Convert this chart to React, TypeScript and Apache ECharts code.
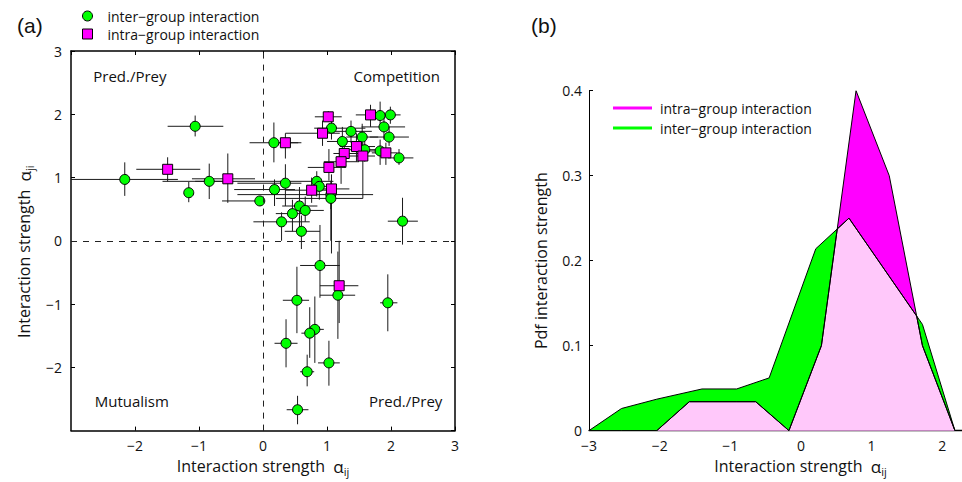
import React, { useEffect, useRef } from "react";
import * as echarts from "echarts";

// Panel (a): [x, y, xLow, xHigh, yLow, yHigh]
const interPoints: number[][] = [
  [-2.16, 0.97, -3.2, -1.33, 0.71, 1.24],
  [-1.06, 1.81, -1.49, -0.62, 1.65, 1.98],
  [-1.16, 0.76, -1.16, -1.16, 0.61, 0.93],
  [-0.84, 0.94, -1.06, -0.6, 0.66, 1.22],
  [-0.05, 0.63, -0.64, 0.02, 0.55, 0.7],
  [0.17, 1.55, -0.21, 0.55, 1.24, 1.87],
  [0.18, 0.81, -0.45, 0.5, 0.55, 0.97],
  [0.29, 0.3, -0.15, 0.73, 0.0, 0.45],
  [0.35, 0.91, -0.4, 0.6, 0.55, 1.21],
  [0.57, 0.55, 0.3, 0.85, 0.2, 0.85],
  [0.66, 0.48, 0.45, 0.95, 0.3, 0.7],
  [0.46, 0.43, 0.2, 0.7, 0.15, 0.65],
  [0.6, 0.15, 0.34, 0.89, -0.13, 0.4],
  [0.84, 0.94, -1.57, 1.1, 0.7, 1.1],
  [0.88, 0.86, 0.7, 1.1, 0.65, 1.0],
  [1.06, 0.73, -0.4, 1.72, 0.5, 0.95],
  [1.06, 0.67, 0.2, 1.56, 0.0, 0.85],
  [1.07, 1.78, 0.8, 1.6, 1.6, 1.95],
  [1.375, 1.73, 1.0, 1.7, 1.55, 1.9],
  [1.24, 1.57, 1.0, 1.5, 1.3, 1.8],
  [1.55, 1.64, 1.3, 1.8, 1.4, 1.85],
  [1.59, 1.44, 1.35, 1.85, 1.25, 1.62],
  [1.83, 1.98, 1.65, 2.0, 1.8, 2.2],
  [1.99, 1.99, 1.85, 2.15, 1.85, 2.12],
  [1.89, 1.8, 1.54, 2.22, 1.6, 2.0],
  [1.97, 1.64, 1.67, 2.28, 1.5, 1.8],
  [1.83, 1.42, 1.6, 1.95, 1.2, 1.6],
  [2.125, 1.31, 1.95, 2.35, 1.2, 1.45],
  [2.18, 0.31, 1.95, 2.42, -0.06, 0.68],
  [0.89, -0.39, 0.58, 1.2, -0.9, 0.25],
  [1.17, -0.86, 0.89, 1.44, -1.55, -0.17],
  [0.53, -0.94, 0.31, 0.72, -1.46, -0.41],
  [1.95, -0.98, 1.83, 2.1, -1.43, -0.53],
  [0.81, -1.4, 0.7, 0.95, -1.93, -0.88],
  [0.73, -1.46, 0.6, 0.85, -1.85, -1.05],
  [0.36, -1.62, 0.18, 0.54, -2.0, -1.24],
  [1.03, -1.93, 0.86, 1.2, -2.29, -1.58],
  [0.69, -2.07, 0.58, 0.8, -2.3, -1.8],
  [0.54, -2.67, 0.37, 0.71, -2.9, -2.45],
];

const intraPoints: number[][] = [
  [-1.49, 1.13, -1.98, -0.98, 0.94, 1.32],
  [-0.55, 0.98, -1.11, -0.125, 0.6, 1.38],
  [0.35, 1.55, 0.16, 0.6, 1.3, 1.7],
  [0.93, 1.7, 0.35, 1.2, 1.5, 1.9],
  [1.02, 1.96, 0.81, 1.23, 1.88, 2.05],
  [1.46, 1.49, 1.2, 1.75, 1.25, 1.7],
  [1.27, 1.38, 1.1, 1.5, 1.15, 1.6],
  [1.22, 1.25, 0.95, 1.5, 0.9, 1.45],
  [1.56, 1.34, 1.3, 1.75, 0.67, 1.55],
  [1.03, 1.16, 0.7, 1.3, 0.95, 1.45],
  [1.68, 1.99, 1.45, 1.85, 1.8, 2.15],
  [1.92, 1.39, 1.7, 2.1, 1.2, 1.55],
  [0.76, 0.8, 0.35, 1.0, 0.6, 1.0],
  [1.07, 0.82, 0.85, 1.35, -0.2, 1.05],
  [1.19, -0.71, 0.89, 1.49, -1.3, 0.0],
];

const quadrantNames = ["Pred./Prey", "Competition", "Mutualism", "Pred./Prey"];
const quadrantX = [-2.08, 2.09, -2.05, 2.23];
const quadrantY = [2.61, 2.61, -2.53, -2.53];

// Panel (b): pdf curves
const interPdfX = [-3, -2.54, -2.04, -1.4, -0.91, -0.45, 0.21, 0.68, 1.72, 2.18];
const interPdfY = [0, 0.026, 0.037, 0.049, 0.049, 0.062, 0.214, 0.25, 0.125, 0];
const intraPdfX = [-2.04, -1.58, -0.64, -0.17, 0.29, 0.78, 1.25, 1.72, 2.18];
const intraPdfY = [0, 0.034, 0.034, 0, 0.1, 0.4, 0.3, 0.1, 0];

const INTER = "inter−group interaction";
const INTRA = "intra−group interaction";
const FONT = "Open Sans";
const GREEN = "#00ff00";
const MAGENTA = "#ff00ff";
const PINK = "#ffc8fa";

function interp(xs: number[], ys: number[], x: number): number {
  if (x < xs[0] || x > xs[xs.length - 1]) return 0;
  for (let i = 0; i < xs.length - 1; i++) {
    if (x >= xs[i] && x <= xs[i + 1]) {
      const t = xs[i + 1] === xs[i] ? 0 : (x - xs[i]) / (xs[i + 1] - xs[i]);
      return ys[i] + t * (ys[i + 1] - ys[i]);
    }
  }
  return 0;
}

function overlap(): number[][] {
  const all = Array.from(new Set([...interPdfX, ...intraPdfX])).sort((a, b) => a - b);
  const out: number[][] = [];
  let prevX = 0;
  let prevD = 0;
  all.forEach((x, i) => {
    const f = interp(interPdfX, interPdfY, x);
    const g = interp(intraPdfX, intraPdfY, x);
    const d = f - g;
    if (i > 0 && ((prevD < 0 && d > 0) || (prevD > 0 && d < 0))) {
      const xc = prevX + ((x - prevX) * prevD) / (prevD - d);
      out.push([xc, interp(interPdfX, interPdfY, xc)]);
    }
    out.push([x, Math.min(f, g)]);
    prevX = x;
    prevD = d;
  });
  return out;
}

const minus = (v: number) => String(v).replace("-", "−");

const errorBarSeries = (pts: number[][], name: string) => ({
  type: "custom",
  name,
  xAxisIndex: 0,
  yAxisIndex: 0,
  clip: true,
  silent: true,
  z: 1,
  encode: { x: [0, 2, 3], y: [1, 4, 5] },
  data: pts,
  renderItem: (_params: any, api: any) => {
    const x = api.value(0);
    const y = api.value(1);
    const a = api.coord([api.value(2), y]);
    const b = api.coord([api.value(3), y]);
    const c = api.coord([x, api.value(4)]);
    const d = api.coord([x, api.value(5)]);
    const style = { stroke: "#1a1a1a", lineWidth: 1 };
    return {
      type: "group",
      children: [
        { type: "line", shape: { x1: a[0], y1: a[1], x2: b[0], y2: b[1] }, style },
        { type: "line", shape: { x1: c[0], y1: c[1], x2: d[0], y2: d[1] }, style },
      ],
    };
  },
});

const axisText = { fontFamily: FONT, fontSize: 14, color: "#111" };
const nameRich = {
  t: { fontFamily: FONT, fontSize: 16, color: "#111", lineHeight: 22 },
  a: { fontFamily: FONT, fontSize: 17, color: "#111", lineHeight: 22 },
  s: { fontFamily: FONT, fontSize: 11, color: "#111", lineHeight: 10, verticalAlign: "bottom" },
};

export default function App() {
  const ref = useRef<HTMLDivElement>(null);
  useEffect(() => {
    if (!ref.current) return;
    const chart = echarts.init(ref.current, undefined, { renderer: "svg" });
    const boxAxis = { show: true, onZero: false, lineStyle: { color: "#000", width: 1.5 } };
    const option: any = {
      animation: false,
      backgroundColor: "#fff",
      title: [
        { text: "(a)", left: 12, top: 10, textStyle: { fontFamily: "Liberation Sans", fontSize: 21, fontWeight: "normal", color: "#111" } },
        { text: "(b)", left: 526, top: 10, textStyle: { fontFamily: "Liberation Sans", fontSize: 21, fontWeight: "normal", color: "#111" } },
      ],
      legend: [
        {
          orient: "vertical",
          left: 82,
          top: 9,
          padding: 0,
          itemWidth: 10,
          itemHeight: 10,
          itemGap: 4,
          selectedMode: false,
          formatter: (n: string) => n.slice(2),
          textStyle: { fontFamily: FONT, fontSize: 14, color: "#111", padding: [0, 0, 0, 10] },
          data: [
            { name: "a:" + INTER, icon: "circle", itemStyle: { color: GREEN, borderColor: "#000", borderWidth: 1 } },
            { name: "a:" + INTRA, icon: "rect", itemStyle: { color: MAGENTA, borderColor: "#000", borderWidth: 1 } },
          ],
        },
        {
          orient: "vertical",
          left: 613,
          top: 101,
          padding: 0,
          itemWidth: 39,
          itemHeight: 3,
          itemGap: 6,
          selectedMode: false,
          formatter: (n: string) => n.slice(2),
          textStyle: { fontFamily: FONT, fontSize: 14, color: "#111", padding: [0, 0, 0, 3] },
          data: [
            { name: "b:" + INTRA, icon: "rect", itemStyle: { color: MAGENTA, borderWidth: 0 } },
            { name: "b:" + INTER, icon: "rect", itemStyle: { color: GREEN, borderWidth: 0 } },
          ],
        },
      ],
      grid: [
        { left: 71, top: 51, width: 384, height: 382 },
        { left: 589, top: 90.7, width: 373, height: 342 },
      ],
      xAxis: [
        {
          gridIndex: 0,
          type: "value",
          min: -3,
          max: 3,
          interval: 1,
          position: "bottom",
          axisLine: boxAxis,
          axisTick: { inside: true, length: 4, lineStyle: { color: "#000" } },
          axisLabel: { ...axisText, margin: 8, showMinLabel: false, formatter: minus },
          splitLine: { show: false },
          name: "{t|Interaction strength  }{a|α}{s|ij}",
          nameLocation: "middle",
          nameGap: 22,
          nameTextStyle: { rich: nameRich },
        },
        {
          gridIndex: 0,
          type: "value",
          min: -3,
          max: 3,
          interval: 1,
          position: "top",
          axisLine: boxAxis,
          axisTick: { inside: true, length: 4, lineStyle: { color: "#000" } },
          axisLabel: { show: false },
          splitLine: { show: false },
        },
        {
          gridIndex: 1,
          type: "value",
          min: -3,
          max: 2.28,
          interval: 1,
          axisLine: { show: true, onZero: false, lineStyle: { color: "#000", width: 1.3 } },
          axisTick: { show: false },
          axisLabel: { ...axisText, margin: 8, showMaxLabel: false, formatter: minus },
          splitLine: { show: false },
          name: "{t|Interaction strength  }{a|α}{s|ij}",
          nameLocation: "middle",
          nameGap: 22,
          nameTextStyle: { rich: nameRich, padding: [0, 0, 0, 50] },
        },
      ],
      yAxis: [
        {
          gridIndex: 0,
          type: "value",
          min: -3,
          max: 3,
          interval: 1,
          position: "left",
          axisLine: boxAxis,
          axisTick: { inside: true, length: 4, lineStyle: { color: "#000" } },
          axisLabel: { ...axisText, margin: 9, showMinLabel: false, formatter: minus },
          splitLine: { show: false },
          name: "{t|Interaction strength  }{a|α}{s|ji}",
          nameLocation: "middle",
          nameRotate: 90,
          nameGap: 36,
          nameTextStyle: { rich: nameRich, padding: [0, 22, 0, 0] },
        },
        {
          gridIndex: 0,
          type: "value",
          min: -3,
          max: 3,
          interval: 1,
          position: "right",
          axisLine: boxAxis,
          axisTick: { inside: true, length: 4, lineStyle: { color: "#000" } },
          axisLabel: { show: false },
          splitLine: { show: false },
        },
        {
          gridIndex: 1,
          type: "value",
          min: 0,
          max: 0.4,
          interval: 0.1,
          axisLine: { show: true, onZero: false, lineStyle: { color: "#000", width: 1 } },
          axisTick: { show: true, inside: true, length: 4, lineStyle: { color: "#000" } },
          axisLabel: { ...axisText, margin: 7 },
          splitLine: { show: false },
          name: "Pdf interaction strength",
          nameLocation: "middle",
          nameRotate: 90,
          nameGap: 40,
          nameTextStyle: { fontFamily: FONT, fontSize: 16, color: "#111" },
        },
      ],
      series: [
        errorBarSeries(interPoints, "interErr"),
        errorBarSeries(intraPoints, "intraErr"),
        {
          type: "scatter",
          name: "a:" + INTER,
          xAxisIndex: 0,
          yAxisIndex: 0,
          symbol: "circle",
          symbolSize: 10,
          z: 3,
          itemStyle: { color: GREEN, borderColor: "#000", borderWidth: 1, opacity: 1 },
          data: interPoints.map((p) => [p[0], p[1]]),
          markLine: {
            silent: true,
            symbol: ["none", "none"],
            label: { show: false },
            lineStyle: { color: "#222", type: [6, 6], width: 1 },
            data: [{ xAxis: 0 }, { yAxis: 0 }],
          },
        },
        {
          type: "scatter",
          name: "a:" + INTRA,
          xAxisIndex: 0,
          yAxisIndex: 0,
          symbol: "rect",
          symbolSize: 10,
          z: 4,
          itemStyle: { color: MAGENTA, borderColor: "#000", borderWidth: 1, opacity: 1 },
          data: intraPoints.map((p) => [p[0], p[1]]),
        },
        {
          type: "scatter",
          name: "quadrants",
          xAxisIndex: 0,
          yAxisIndex: 0,
          symbolSize: 1,
          silent: true,
          z: 5,
          itemStyle: { color: "rgba(0,0,0,0)", borderWidth: 0 },
          label: {
            show: true,
            position: "inside",
            formatter: "{b}",
            fontFamily: FONT,
            fontSize: 15,
            color: "#111",
            opacity: 1,
            textBorderWidth: 0,
            textBorderColor: "transparent",
          },
          data: quadrantNames.map((n, i) => ({ name: n, value: [quadrantX[i], quadrantY[i]] })),
        },
        {
          type: "line",
          name: "b:" + INTER,
          xAxisIndex: 2,
          yAxisIndex: 2,
          symbol: "none",
          color: GREEN,
          lineStyle: { color: "#000", width: 1 },
          areaStyle: { color: GREEN, opacity: 1 },
          data: interPdfX.map((x, i) => [x, interPdfY[i]]),
        },
        {
          type: "line",
          name: "b:" + INTRA,
          xAxisIndex: 2,
          yAxisIndex: 2,
          symbol: "none",
          color: MAGENTA,
          lineStyle: { color: "#000", width: 1 },
          areaStyle: { color: MAGENTA, opacity: 1 },
          data: intraPdfX.map((x, i) => [x, intraPdfY[i]]),
        },
        {
          type: "line",
          name: "overlap",
          xAxisIndex: 2,
          yAxisIndex: 2,
          symbol: "none",
          color: PINK,
          lineStyle: { color: "#000", width: 1 },
          areaStyle: { color: PINK, opacity: 1 },
          data: overlap(),
        },
      ],
    };
    chart.setOption(option);
    return () => chart.dispose();
  }, []);
  return (
    <div
      ref={ref}
      style={{ position: "absolute", left: 0, top: 0, width: 962, height: 482 }}
    />
  );
}
